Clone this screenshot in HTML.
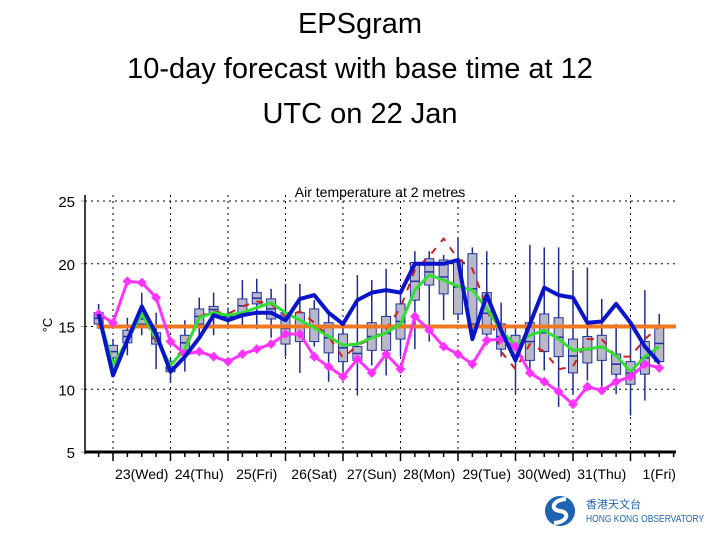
<!DOCTYPE html>
<html><head><meta charset="utf-8">
<style>
html,body{margin:0;padding:0;background:#fff;}
body{width:720px;height:540px;overflow:hidden;position:relative;font-family:"Liberation Sans",sans-serif;}
#title{position:absolute;left:0;top:2px;width:720px;text-align:center;font-size:29px;line-height:45px;color:#000;}
svg{position:absolute;left:0;top:0;}
</style></head>
<body>
<div id="title">EPSgram<br>10-day forecast with base time at 12<br>UTC on 22 Jan</div>
<svg id="chart" width="720" height="540"></svg>
<script>
const dayLabels=["23(Wed)","24(Thu)","25(Fri)","26(Sat)","27(Sun)","28(Mon)","29(Tue)","30(Wed)","31(Thu)","1(Fri)"];
const yTicks=[5,10,15,20,25];
const climate=15.0;
const magenta=[16.0,15.3,18.6,18.5,17.3,13.8,12.8,13.0,12.6,12.2,12.8,13.2,13.6,14.4,14.4,12.6,11.8,11.0,12.4,11.3,12.8,11.6,15.8,14.7,13.4,12.8,12.0,13.9,14.0,13.4,11.3,10.6,9.8,8.8,10.2,9.9,10.6,11.0,12.0,11.7];
const blue=[16.0,11.1,13.9,16.6,14.4,11.4,12.6,14.1,15.9,15.5,15.9,16.1,16.1,15.5,17.2,17.5,16.1,15.2,17.1,17.7,17.9,17.7,20.0,20.0,20.0,20.3,14.0,17.5,14.7,12.3,15.2,18.1,17.5,17.3,15.3,15.4,16.8,15.3,13.4,12.1];
const green=[16.0,11.9,13.9,16.0,14.1,11.9,13.2,15.7,16.1,15.9,16.1,16.5,16.9,16.1,15.5,14.9,14.2,13.5,13.6,14.1,14.5,15.2,17.9,19.1,18.7,18.2,17.9,16.4,14.7,13.5,14.3,14.7,14.0,13.1,13.2,13.4,12.7,11.4,12.6,13.4];
const redDash=[16.0,12.0,13.8,16.0,13.8,12.0,13.4,15.8,16.2,16.0,16.6,17.0,16.8,15.8,16.2,15.3,14.2,12.5,13.5,14.0,14.8,16.5,19.5,20.6,22.0,20.4,19.6,16.5,13.0,11.6,13.6,13.0,11.6,11.8,14.0,14.0,12.6,12.6,14.0,15.0];
const boxLo=[15.2,12.5,13.7,15.2,13.6,11.4,13.1,15.2,16.1,15.6,16.1,16.8,15.6,13.6,13.8,13.8,12.9,12.2,12.3,13.1,13.1,14.0,17.1,18.3,17.6,16.0,15.2,14.4,13.2,12.7,12.3,13.0,12.6,11.3,12.1,12.3,11.2,10.4,11.2,12.2];
const boxHi=[16.1,13.5,14.7,16.0,14.5,11.8,14.3,16.4,16.6,16.0,17.2,17.7,17.2,16.1,16.1,16.4,15.3,14.4,13.4,15.3,15.8,16.8,20.1,20.4,20.3,20.3,20.8,17.7,15.2,14.3,15.3,16.0,15.7,14.0,14.2,14.3,12.8,12.2,13.8,15.1];
const whLo=[14.8,12.0,12.7,14.3,11.6,10.5,11.4,14.1,14.3,15.0,15.0,14.8,14.1,12.6,11.3,13.4,10.6,11.0,9.5,11.9,11.1,12.6,13.2,13.8,15.5,15.5,14.1,13.5,12.6,9.6,11.1,11.5,8.6,9.6,10.7,9.9,9.6,7.9,9.1,11.9];
const whHi=[16.8,14.0,15.7,17.7,16.1,12.5,15.5,17.3,17.7,16.5,18.7,18.8,18.0,18.4,18.4,17.1,16.3,14.9,19.1,18.7,19.6,17.9,21.0,21.0,20.7,22.1,21.3,21.0,16.9,14.9,21.5,21.3,21.3,19.5,19.7,17.2,15.2,15.1,17.9,16.0];

const NS="http://www.w3.org/2000/svg";
const svg=document.getElementById('chart');
const X0=85,X1=676,YT=195,YB=452;
const day0X=113.0,dayW=57.5;
function xAt(i){return day0X-dayW/4+i*dayW/4;}
function yAt(t){return 452-(t-5)*(251/20);}
function mk(tag,attrs,parent){const e=document.createElementNS(NS,tag);for(const k in attrs)e.setAttribute(k,attrs[k]);(parent||svg).appendChild(e);return e;}

const grid=mk('g',{});


yTicks.forEach(v=>{
  if(v>5){const l=mk('line',{x1:X0,x2:X1,y1:yAt(v),y2:yAt(v),stroke:'#000','stroke-width':1,'stroke-dasharray':'2,4'},grid);
  
  }
  const t=mk('text',{x:75,y:yAt(v)+6,'text-anchor':'end','font-size':15,'font-family':'Liberation Sans Narrow, Liberation Sans, sans-serif',fill:'#000'});
  t.textContent=v;
  
  
  const tk=mk('line',{x1:X0-4,x2:X0,y1:yAt(v),y2:yAt(v),stroke:'#999'});
  
  
});
dayLabels.forEach((d,k)=>{
  const x=day0X+k*dayW;
  const l=mk('line',{x1:x,x2:x,y1:YT,y2:YB,stroke:'#000','stroke-width':1,'stroke-dasharray':'2,4'},grid);
  
  
  const t=mk('text',{x:x+dayW/2,y:479,'text-anchor':'middle','font-size':14,'font-family':'Liberation Sans, sans-serif',fill:'#000'});
  t.textContent=d;
  
  
});
const ax=mk('line',{x1:X0,x2:X0,y1:YT,y2:YB+2,stroke:'#000','stroke-width':1.5});


const bx=mk('line',{x1:X0,x2:X1,y1:YB,y2:YB,stroke:'#000','stroke-width':3});


for(let i=0;i<=40;i++){const x=xAt(i);const big=(i%4==1);
  const t=mk('line',{x1:x,x2:x,y1:YB,y2:YB+(big?9:5),stroke:'#000','stroke-width':1.5});
  
  }
const yl=mk('text',{x:0,y:0,'font-size':13,fill:'#000',transform:'translate(52,325) rotate(-90)','text-anchor':'middle'});
yl.textContent='°C';


const st=mk('text',{x:380,y:197,'text-anchor':'middle','font-size':14,'font-family':'Liberation Sans Narrow, Liberation Sans, sans-serif',fill:'#000'});
st.textContent='Air temperature at 2 metres';



for(let i=0;i<boxLo.length;i++){
  const x=xAt(i);
  const g=mk('g',{});
  
  
  mk('line',{x1:x,x2:x,y1:yAt(whHi[i]),y2:yAt(whLo[i]),stroke:'#1a2a9a','stroke-width':1.5},g);
  mk('rect',{x:x-4.5,y:yAt(boxHi[i]),width:9,height:Math.max(1,yAt(boxLo[i])-yAt(boxHi[i])),fill:'#b8b8c8',stroke:'#2030a0','stroke-width':1},g);
  const med=(boxLo[i]+boxHi[i])/2;
  mk('line',{x1:x-4.5,x2:x+4.5,y1:yAt(med),y2:yAt(med),stroke:'#2030a0','stroke-width':1.5},g);
}
function poly(arr,attrs,name){
  const p=mk('polyline',Object.assign({points:arr.map((v,i)=>xAt(i).toFixed(1)+','+yAt(v).toFixed(1)).join(' '),fill:'none'},attrs));
  
  
  return p;
}
poly(redDash,{stroke:'#cc1f1f','stroke-width':2,'stroke-dasharray':'7,8'},'red-dashed-series');
const cl=mk('line',{x1:xAt(0)-2,x2:X1,y1:yAt(climate),y2:yAt(climate),stroke:'#f07820','stroke-width':4});


poly(green,{stroke:'#33dd33','stroke-width':3},'green-series');
poly(magenta,{stroke:'#ff33ff','stroke-width':3},'magenta-series');
magenta.forEach((v,i)=>{
  const d=mk('rect',{x:xAt(i)-3.5,y:yAt(v)-3.5,width:7,height:7,fill:'#ff33ff',transform:`rotate(45 ${xAt(i)} ${yAt(v)})`});
  
  
});
poly(blue,{stroke:'#0a14c8','stroke-width':4,'stroke-linejoin':'round'},'blue-series');

const lg=mk('g',{});


mk('circle',{cx:560,cy:511,r:15,fill:'#1f64b4'},lg);
mk('path',{d:'M566 499 C552 500 550 510 560 511 C570 512 568 522 554 523',stroke:'#fff','stroke-width':4,fill:'none'},lg);
const c1=mk('text',{x:586,y:508,'font-size':11,fill:'#1f64b4','font-family':'Liberation Sans, Noto Sans CJK TC, sans-serif'},lg);
c1.textContent='香港天文台';
const c2=mk('text',{x:586,y:522,'font-size':10,fill:'#1f64b4','font-family':'Liberation Sans, sans-serif','textLength':118,'lengthAdjust':'spacingAndGlyphs'},lg);
c2.textContent='HONG KONG OBSERVATORY';
</script>
</body></html>
